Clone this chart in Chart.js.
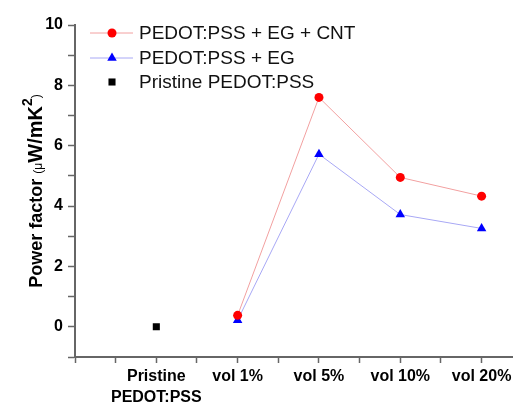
<!DOCTYPE html>
<html>
<head>
<meta charset="utf-8">
<script src="https://cdn.jsdelivr.net/npm/chart.js@4"></script>
<style>
  html, body { margin: 0; padding: 0; background: #fff; }
  #wrap { width: 518px; height: 403px; }
</style>
</head>
<body>
<div id="wrap"><canvas id="pfChart"></canvas></div>
<script>
// categories on the x axis (index 0..4)
const categories = [['Pristine', 'PEDOT:PSS'], 'vol 1%', 'vol 5%', 'vol 10%', 'vol 20%'];
// power factor values (uW/mK^2), null = no point
const cntValues = [null, 0.38, 7.6, 4.95, 4.33];
const egValues = [null, 0.22, 5.72, 3.72, 3.26];
const pristineValues = [0.0, null, null, null, null];
const yTicks = [0, 2, 4, 6, 8, 10];

const toPoints = arr => arr.map((v, i) => ({ x: i, y: v })).filter(p => p.y !== null);

const axisColor = '#666';
const font = 'Liberation Sans, Arial, sans-serif';

// legend drawn inside the plot, Origin style (line + marker)
const insideLegend = {
  id: 'insideLegend',
  afterDraw(chart) {
    const ctx = chart.ctx;
    const area = chart.chartArea;
    const x0 = area.left + 15, x1 = area.left + 58, xm = area.left + 37;
    const rows = [8, 33, 57];
    ctx.save();
    chart.data.datasets.forEach((ds, i) => {
      const y = area.top + rows[i];
      if (ds.showLine !== false) {
        ctx.strokeStyle = ds.borderColor;
        ctx.lineWidth = 1;
        ctx.beginPath();
        ctx.moveTo(x0, y);
        ctx.lineTo(x1, y);
        ctx.stroke();
      }
      ctx.fillStyle = ds.pointBackgroundColor;
      ctx.strokeStyle = ds.pointBackgroundColor;
      Chart.helpers.drawPoint(ctx, {
        pointStyle: ds.pointStyle, radius: ds.pointRadius, rotation: 0, borderWidth: 0
      }, xm, y);
      ctx.fillStyle = '#111';
      ctx.font = '19px ' + font;
      ctx.textAlign = 'left';
      ctx.textBaseline = 'middle';
      ctx.fillText(ds.label, area.left + 64, y + 1);
    });
    ctx.restore();
  }
};

// y title with small mu / brackets and a raised 2
const yTitle = {
  id: 'yTitle',
  afterDraw(chart) {
    const ctx = chart.ctx;
    const area = chart.chartArea;
    const parts = [
      { t: 'Power factor ', f: 'bold 18px ', dy: 0 },
      { t: '(', f: '12px ', dy: 0 },
      { t: '\u03bc', f: '12px ', dy: 0 },
      { t: 'W/mK', f: 'bold 20px ', dy: 0 },
      { t: '2', f: 'bold 14px ', dy: -10 },
      { t: ')', f: '12px ', dy: -2 }
    ];
    ctx.save();
    let total = 0;
    parts.forEach(p => { ctx.font = p.f + font; p.w = ctx.measureText(p.t).width; total += p.w; });
    ctx.translate(42, (area.top + area.bottom) / 2 + total / 2);
    ctx.rotate(-Math.PI / 2);
    ctx.fillStyle = '#000';
    ctx.textBaseline = 'alphabetic';
    ctx.textAlign = 'left';
    let x = 0;
    parts.forEach(p => {
      ctx.font = p.f + font;
      ctx.fillText(p.t, x, p.dy);
      x += p.w;
    });
    ctx.restore();
  }
};

const ctx = document.getElementById('pfChart').getContext('2d');
const pfChart = new Chart(ctx, {
  type: 'line',
  data: {
    datasets: [{
      label: 'PEDOT:PSS + EG + CNT',
      data: toPoints(cntValues),
      borderColor: '#f2a0a0',
      borderWidth: 1,
      pointStyle: 'circle',
      pointRadius: 4.5,
      pointBackgroundColor: '#ff0000',
      pointBorderWidth: 0
    }, {
      label: 'PEDOT:PSS + EG',
      data: toPoints(egValues),
      borderColor: '#a8a8f5',
      borderWidth: 1,
      pointStyle: 'triangle',
      pointRadius: 5.5,
      pointBackgroundColor: '#0000ff',
      pointBorderWidth: 0
    }, {
      label: 'Pristine PEDOT:PSS',
      data: toPoints(pristineValues),
      showLine: false,
      borderColor: '#000',
      pointStyle: 'rect',
      pointRadius: 5,
      pointBackgroundColor: '#000',
      pointBorderWidth: 0
    }]
  },
  options: {
    responsive: true,
    maintainAspectRatio: false,
    animation: false,
    layout: { padding: { top: 25, right: 0, left: 0, bottom: 0 } },
    plugins: {
      legend: { display: false },
      tooltip: { enabled: false }
    },
    scales: {
      x: {
        type: 'linear',
        min: -1,
        max: 4.38,
        afterBuildTicks: scale => {
          const t = [];
          for (let v = -1; v <= 4; v += 0.5) t.push({ value: v });
          scale.ticks = t;
        },
        afterFit: scale => {
          scale.height = 46;
          scale.paddingLeft = 0;
          scale.paddingRight = 0;
        },
        border: { display: true, color: axisColor, width: 2 },
        grid: { display: true, drawOnChartArea: false, tickLength: 6, tickColor: axisColor, tickWidth: 1.5 },
        ticks: {
          autoSkip: false,
          maxRotation: 0,
          padding: 3,
          color: '#000',
          font: { family: font, size: 16, weight: 'bold', lineHeight: 1.3 },
          callback: v => (Number.isInteger(v) && v >= 0 && v < categories.length) ? categories[v] : ''
        }
      },
      y: {
        min: -1,
        max: 10,
        afterFit: scale => {
          scale.width = 75;
          scale.paddingTop = 0;
          scale.paddingBottom = 0;
        },
        border: { display: true, color: axisColor, width: 2 },
        grid: { display: true, drawOnChartArea: false, tickLength: 7, tickColor: axisColor, tickWidth: 1.5 },
        ticks: {
          stepSize: 1,
          padding: 5,
          color: '#000',
          font: { family: font, size: 16, weight: 'bold' },
          callback: v => yTicks.includes(v) ? String(v) : ''
        }
      }
    }
  },
  plugins: [insideLegend, yTitle]
});
</script>
</body>
</html>
